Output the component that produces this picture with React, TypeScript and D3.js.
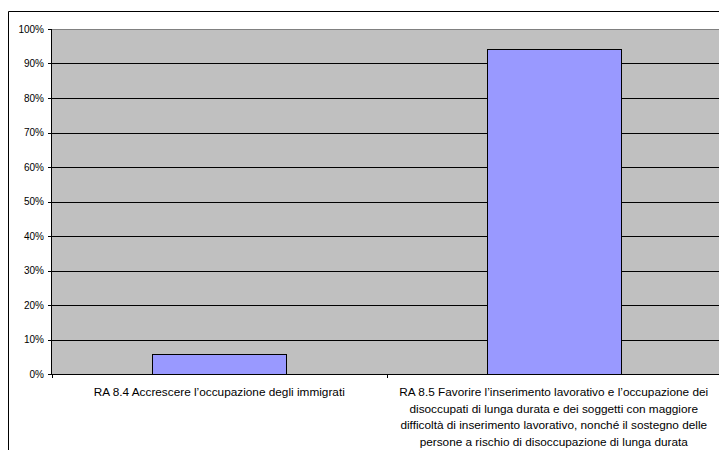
import React from "react";
import * as d3 from "d3";

// Result areas (RA) and their share of the total, wrapped as drawn under the axis
const categories = ["RA 8.4", "RA 8.5"];
const categoryLines = [
  ["RA 8.4 Accrescere l\u2019occupazione degli immigrati"],
  [
    "RA 8.5 Favorire l\u2019inserimento lavorativo e l\u2019occupazione dei",
    "disoccupati di lunga durata e dei soggetti con maggiore",
    "difficolt\u00e0 di inserimento lavorativo, nonch\u00e9 il sostegno delle",
    "persone a rischio di disoccupazione di lunga durata",
  ],
];
const shares = [0.058, 0.942];
const yTicks = [0, 0.1, 0.2, 0.3, 0.4, 0.5, 0.6, 0.7, 0.8, 0.9, 1];

const W = 719;
const H = 450;
const plotLeft = 52;
const plotRight = 721;
const plotTop = 29;
const plotBottom = 374;
const font = "Arial, 'Liberation Sans', sans-serif";

export default function App() {
  const x = d3
    .scaleBand<string>()
    .domain(categories)
    .range([plotLeft, plotRight])
    .paddingInner(0.6)
    .paddingOuter(0.3);
  const y = d3.scaleLinear().domain([0, 1]).range([plotBottom, plotTop]);
  const fmt = d3.format(".0%");
  const step = x.step();
  const crisp = (v: number) => Math.round(v) + 0.5;

  // category boundaries for the small tick marks under the axis
  const boundaries = d3.range(categories.length + 1).map((i) => plotLeft + i * step);

  return (
    <svg
      width={W}
      height={H}
      style={{ position: "fixed", left: 0, top: 0, background: "#fff" }}
    >
      {/* outer chart frame */}
      <path d={`M8.5,${H} V11.5 H${W + 2}`} fill="none" stroke="#000" strokeWidth={1} />

      {/* plot background */}
      <rect
        x={plotLeft}
        y={plotTop}
        width={plotRight - plotLeft}
        height={plotBottom - plotTop}
        fill="#c0c0c0"
      />
      <line
        x1={plotLeft}
        x2={plotRight}
        y1={plotTop + 0.5}
        y2={plotTop + 0.5}
        stroke="#808080"
      />

      {/* gridlines */}
      {yTicks
        .filter((t) => t > 0 && t < 1)
        .map((t) => (
          <line
            key={`g${t}`}
            x1={plotLeft}
            x2={plotRight}
            y1={crisp(y(t))}
            y2={crisp(y(t))}
            stroke="#000"
          />
        ))}

      {/* bars */}
      {categories.map((c, i) => (
        <rect
          key={c}
          x={Math.round(x(c)!) + 0.5}
          y={Math.round(y(shares[i])) + 0.5}
          width={Math.round(x.bandwidth())}
          height={Math.round(plotBottom - y(shares[i]))}
          fill="#9999ff"
          stroke="#000"
          strokeWidth={1}
        />
      ))}

      {/* y axis */}
      <line x1={plotLeft - 0.5} x2={plotLeft - 0.5} y1={plotTop} y2={plotBottom} stroke="#000" />
      {yTicks.map((t) => (
        <g key={`t${t}`}>
          <line x1={plotLeft - 4} x2={plotLeft} y1={crisp(y(t))} y2={crisp(y(t))} stroke="#000" />
          <text
            x={plotLeft - 8}
            y={y(t)}
            dy="0.35em"
            textAnchor="end"
            fontFamily={font}
            fontSize={10}
            fill="#000"
          >
            {fmt(t)}
          </text>
        </g>
      ))}

      {/* x axis */}
      <line x1={plotLeft} x2={plotRight} y1={plotBottom + 0.5} y2={plotBottom + 0.5} stroke="#000" />
      {boundaries.map((b, i) => (
        <line
          key={`b${i}`}
          x1={crisp(b)}
          x2={crisp(b)}
          y1={plotBottom}
          y2={plotBottom + 4}
          stroke="#000"
        />
      ))}
      {categories.map((c, i) => (
        <text
          key={`l${c}`}
          x={x(c)! + x.bandwidth() / 2}
          y={396}
          textAnchor="middle"
          fontFamily={font}
          fontSize={11.8}
          fill="#000"
        >
          {categoryLines[i].map((line, j) => (
            <tspan key={j} x={x(c)! + x.bandwidth() / 2} dy={j === 0 ? 0 : 16.5}>
              {line}
            </tspan>
          ))}
        </text>
      ))}
    </svg>
  );
}
